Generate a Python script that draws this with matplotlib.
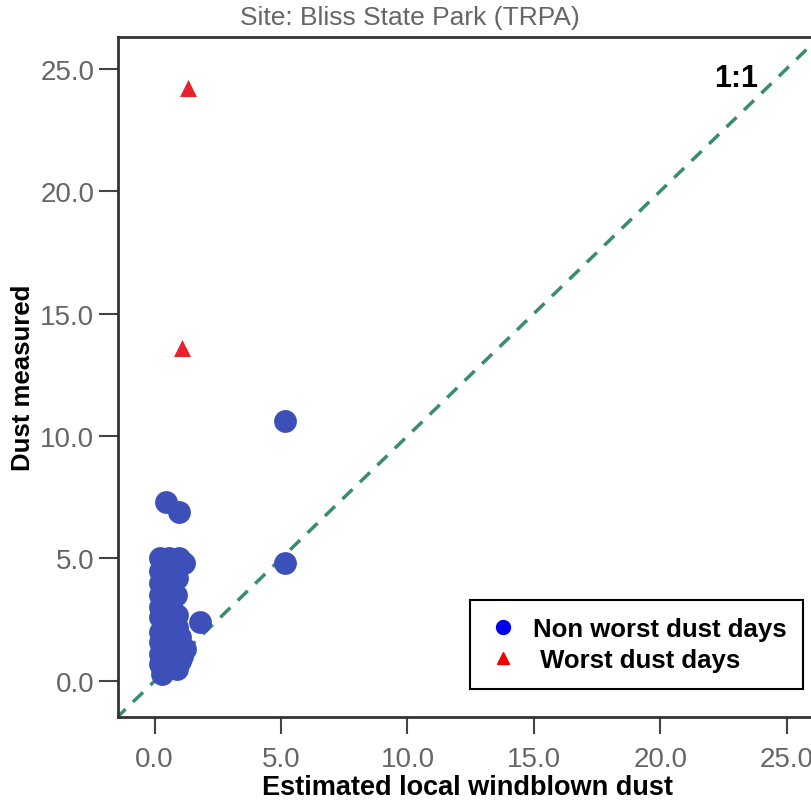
import numpy as np
import matplotlib.pyplot as plt
from matplotlib.lines import Line2D

plt.rcParams['font.family'] = ['Liberation Sans', 'DejaVu Sans']

# non worst dust days (estimated, measured)
blue_x = [5.15, 5.15, 0.45, 0.95, 1.8,
          0.2, 0.55, 0.95, 1.15,
          0.2, 0.6, 0.2, 0.7, 0.9,
          0.2, 0.5, 0.85, 0.2, 0.5, 0.7,
          0.2, 0.45, 0.2, 0.6, 0.9, 0.9,
          0.2, 0.5, 0.8, 1.0, 1.1,
          0.2, 0.5, 0.8, 1.1, 1.2,
          0.2, 0.4, 0.7, 1.0, 0.3, 0.6, 0.9]
blue_y = [10.6, 4.8, 7.3, 6.9, 2.4,
          5.0, 5.0, 5.0, 4.8,
          4.5, 4.4, 4.0, 4.0, 4.2,
          3.5, 3.6, 3.5, 3.0, 3.1, 2.9,
          2.6, 2.5, 2.0, 2.1, 2.2, 2.7,
          1.6, 1.5, 1.7, 1.8, 1.4,
          1.1, 1.0, 1.2, 1.0, 1.3,
          0.7, 0.5, 0.8, 0.8, 0.3, 0.6, 0.5]
# worst dust days
red_x = [1.3, 1.1]
red_y = [24.2, 13.6]

ticks = [0, 5, 10, 15, 20, 25]

fig = plt.figure(figsize=(8.11, 8.04), dpi=100)
ax = fig.add_axes([0.1455, 0.107, 0.862, 0.846])
ax.set_xlim(-1.45, 26.2)
ax.set_ylim(-1.47, 26.3)

ax.plot([-5, 30], [-5, 30], ls=(0, (4, 3)), color='#3a8c6e', lw=2.5, zorder=1)
ax.scatter(blue_x, blue_y, s=270, color='#3d4fb8', zorder=2, linewidths=0)
ax.scatter(red_x, red_y, s=150, marker='^', color='#e8222a', zorder=3, linewidths=0)

ax.text(23.0, 24.6, '1:1', fontsize=22, fontweight='bold', ha='center', va='center')

ax.set_xticks(ticks)
ax.set_yticks(ticks)
ax.set_xticklabels(['%.1f' % t for t in ticks])
ax.set_yticklabels(['%.1f' % t for t in ticks])
ax.tick_params(axis='both', colors='#444444', labelcolor='#666666', labelsize=20, width=1.5)
ax.tick_params(axis='x', length=12, pad=9)
ax.tick_params(axis='y', length=14, pad=3)
for s in ['left', 'bottom', 'top', 'right']:
    ax.spines[s].set_linewidth(2)
    ax.spines[s].set_color('#333333')

ax.set_xlabel('Estimated local windblown dust', fontsize=19.5, fontweight='bold', labelpad=1)
ax.set_ylabel('Dust measured', fontsize=18.5, fontweight='bold', labelpad=4)
fig.text(0.506, 0.977, 'Site: Bliss State Park (TRPA)', fontsize=19, color='#666666',
         ha='center', va='center')

handles = [Line2D([], [], marker='o', ls='none', color='#0000ee', markersize=10),
           Line2D([], [], marker='^', ls='none', color='#ee0000', markersize=9)]
leg = ax.legend(handles, ['Non worst dust days', ' Worst dust days'],
                loc='upper left', bbox_to_anchor=(470 / 811, 1 - 601 / 804),
                bbox_transform=fig.transFigure, fancybox=False, framealpha=1,
                edgecolor='black', prop={'weight': 'bold', 'size': 18.5},
                handletextpad=0.5, borderpad=0.65, labelspacing=0.28, handlelength=1.3,
                borderaxespad=0)
leg.get_frame().set_linewidth(1.5)

fig.savefig('out.png', dpi=100)
